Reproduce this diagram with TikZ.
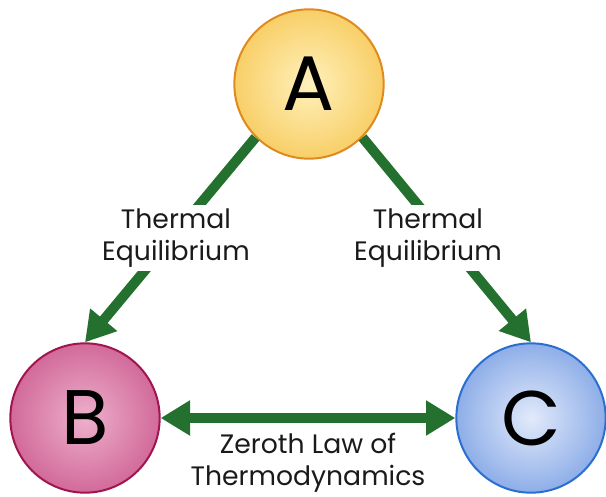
\documentclass[tikz,border=0pt]{standalone}
\usepackage{fontspec}
\setmainfont{Poppins}
\usetikzlibrary{arrows.meta}
\definecolor{arrowgreen}{HTML}{24702F}
\definecolor{txt}{HTML}{1A1A1A}
\definecolor{Aedge}{HTML}{E08A1E}
\definecolor{Ain}{HTML}{FFF1BC}
\definecolor{Aout}{HTML}{F8CF68}
\definecolor{Bedge}{HTML}{A0154D}
\definecolor{Bin}{HTML}{EDB0CC}
\definecolor{Bout}{HTML}{D26A9A}
\definecolor{Cedge}{HTML}{2A6FD0}
\definecolor{Cin}{HTML}{E2EAFB}
\definecolor{Cout}{HTML}{8EAEE8}
\begin{document}
\begin{tikzpicture}[x=0.75pt,y=-0.75pt,
  ball/.style={circle, minimum size=112pt, inner sep=0pt, line width=1.5pt,
    text=black, font=\fontsize{58}{58}\selectfont},
  link/.style={draw=arrowgreen, line width=7.5pt,
    -{Triangle[length=22pt,width=25pt]}},
  twolink/.style={draw=arrowgreen, line width=7.5pt,
    {Triangle[length=22pt,width=25pt]}-{Triangle[length=22pt,width=25pt]}},
  lbl/.style={align=center, text=txt, font=\fontsize{20}{24}\selectfont}
]
\useasboundingbox (0,0) rectangle (606,496);
\node[ball, draw=Aedge, inner color=Ain, outer color=Aout] (A) at (309,84) {A};
\node[ball, draw=Bedge, inner color=Bin, outer color=Bout] (B) at (85,418) {B};
\node[ball, draw=Cedge, inner color=Cin, outer color=Cout] (C) at (531,418) {C};
\draw[link] (A.225) -- (B.north);
\draw[link] (A.-45) -- (C.north);
\draw[twolink] (B.east) -- (C.west);
\node[lbl, fill=white, inner sep=3pt] (l1) at (176,238) {Thermal\\Equilibrium};
\node[lbl, fill=white, inner sep=3pt] (l2) at (428,238) {Thermal\\Equilibrium};
\node[lbl, anchor=north] (l3) at (308,428) {Zeroth Law of\\Thermodynamics};
\end{tikzpicture}
\end{document}
